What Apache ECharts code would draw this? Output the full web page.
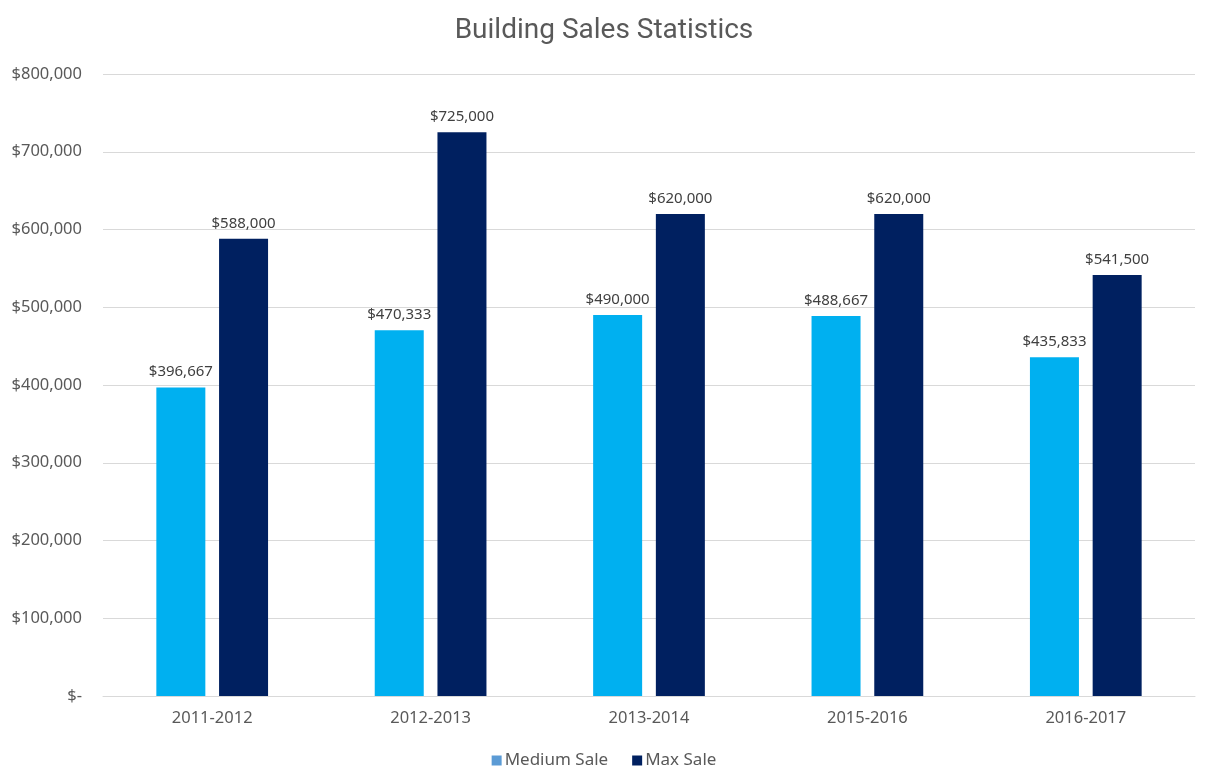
<!DOCTYPE html>
<html><head><meta charset="utf-8">
<script src="https://cdn.jsdelivr.net/npm/echarts@6/dist/echarts.min.js"></script>
<style>html,body{margin:0;padding:0;background:#fff}#c{width:1208px;height:780px}</style>
</head><body><div id="c"></div>
<script>
const categories = ['2011-2012','2012-2013','2013-2014','2015-2016','2016-2017'];
const mediumSale = [396667, 470333, 490000, 488667, 435833];
const maxSale = [588000, 725000, 620000, 620000, 541500];
const yTicks = [0,100000,200000,300000,400000,500000,600000,700000,800000];

function money(v){ return v === 0 ? '$-' : '$' + v.toLocaleString('en-US'); }
const font = '"Noto Sans", "Open Sans", sans-serif';
const chart = echarts.init(document.getElementById('c'));
chart.setOption({
  animation:false,
  backgroundColor:'#fff',
  title:{text:'Building Sales Statistics',left:'center',top:12,
    textStyle:{fontFamily:'"Roboto", sans-serif',fontWeight:'normal',fontSize:28,color:'#595959'}},
  legend:{bottom:6,left:'center',itemWidth:10,itemHeight:10,itemGap:24,icon:'rect',
    textStyle:{fontFamily:font,fontSize:17,color:'#595959',padding:[0,0,0,-2]},
    data:[{name:'Medium Sale',itemStyle:{color:'#5B9BD5'}},{name:'Max Sale',itemStyle:{color:'#002060'}}]},
  grid:{left:103,right:13,top:74,bottom:84,containLabel:false},
  xAxis:{type:'category',data:categories,
    axisLine:{lineStyle:{color:'#D9D9D9',width:1}},axisTick:{show:false},
    axisLabel:{fontFamily:font,fontSize:16.5,color:'#595959',margin:14}},
  yAxis:{type:'value',min:yTicks[0],max:yTicks[yTicks.length-1],interval:100000,
    axisLine:{show:false},axisTick:{show:false},
    splitLine:{lineStyle:{color:'#D9D9D9',width:1}},
    axisLabel:{fontFamily:font,fontSize:16.5,color:'#595959',margin:21,align:'right',formatter:money}},
  series:[
    {name:'Medium Sale',type:'bar',data:mediumSale,barWidth:49,barGap:'28%',
      itemStyle:{color:'#00B0F0'},
      label:{show:true,position:'top',distance:8,fontFamily:font,fontSize:15,color:'#404040',formatter:p=>money(p.value)}},
    {name:'Max Sale',type:'bar',data:maxSale,barWidth:49,barGap:'28%',
      itemStyle:{color:'#002060'},
      label:{show:true,position:'top',distance:8,fontFamily:font,fontSize:15,color:'#404040',formatter:p=>money(p.value)}}
  ]
});
</script></body></html>
